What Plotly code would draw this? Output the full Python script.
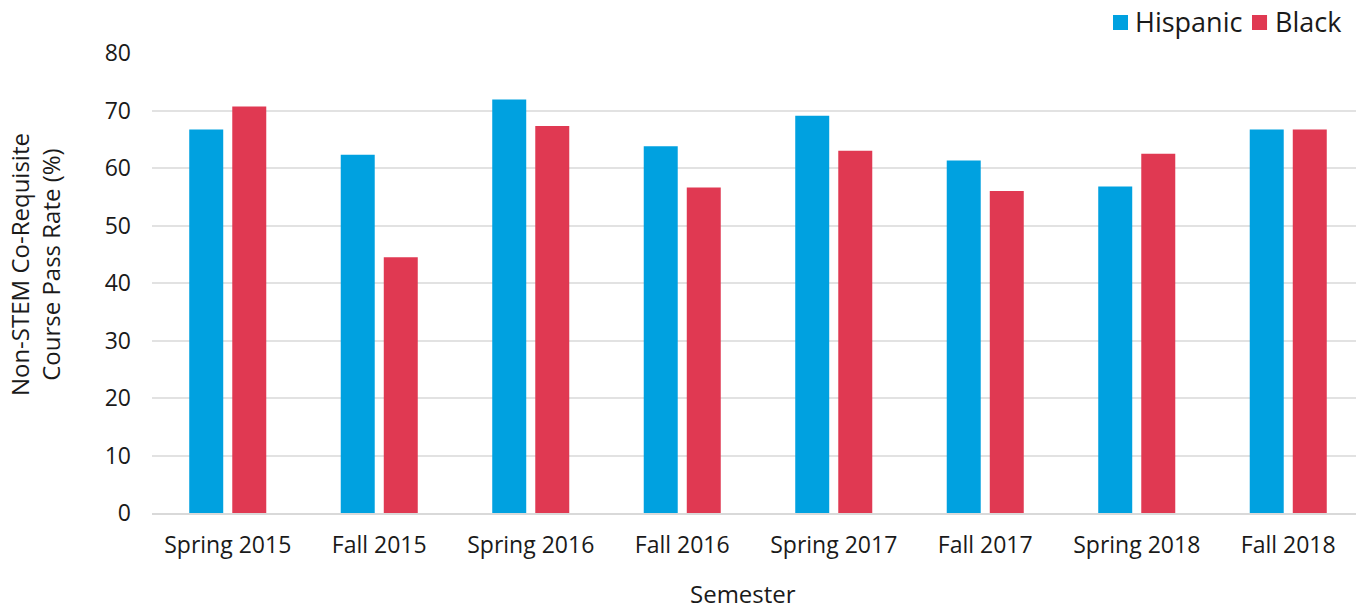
import plotly.graph_objects as go

semesters = ["Spring 2015", "Fall 2015", "Spring 2016", "Fall 2016",
             "Spring 2017", "Fall 2017", "Spring 2018", "Fall 2018"]
hispanic = [66.7, 62.3, 71.9, 63.8, 69.1, 61.3, 56.8, 66.7]
black = [70.7, 44.5, 67.3, 56.6, 63.0, 56.0, 62.5, 66.7]
y_ticks = [0, 10, 20, 30, 40, 50, 60, 70, 80]

FONT = "'Open Sans', Lato, sans-serif"
TXT = "#1a1a1a"
BLUE = "#00A1E0"
RED = "#E03952"

fig = go.Figure()
fig.add_trace(go.Bar(x=semesters, y=hispanic, name="Hispanic",
                     marker=dict(color=BLUE, line=dict(width=0))))
fig.add_trace(go.Bar(x=semesters, y=black, name="Black",
                     marker=dict(color=RED, line=dict(width=0))))

# manual legend (squares + labels) placed above the plot area
legend_items = [("Hispanic", BLUE, 0.7929, 0.8053, 0.8094),
                ("Black", RED, 0.9076, 0.9200, 0.9249)]
shapes = []
annotations = []
for name, color, x0, x1, xt in legend_items:
    shapes.append(dict(type="rect", xref="paper", yref="paper",
                       x0=x0, x1=x1, y0=1.05, y1=1.0826,
                       fillcolor=color, line=dict(width=0)))
    annotations.append(dict(text=name, xref="paper", yref="paper", x=xt, y=1.0674,
                            xanchor="left", yanchor="middle", showarrow=False,
                            font=dict(size=27, family=FONT, color=TXT)))

annotations += [
    dict(text="Non-STEM Co-Requisite<br>Course Pass Rate (%)", textangle=-90,
         xref="paper", yref="paper", x=-0.0965, y=0.539,
         xanchor="center", yanchor="middle", showarrow=False,
         font=dict(size=24, family=FONT, color=TXT)),
    dict(text="Semester", xref="paper", yref="paper", x=0.4876, y=-0.176,
         xanchor="center", yanchor="middle", showarrow=False,
         font=dict(size=24, family=FONT, color=TXT)),
]

fig.update_layout(
    width=1356, height=597,
    margin=dict(l=144, r=0, t=45, b=92),
    paper_bgcolor="white", plot_bgcolor="white",
    barmode="group", bargap=0.432, bargroupgap=0.21,
    font=dict(family=FONT, color=TXT, size=22),
    showlegend=False,
    xaxis=dict(
        automargin=False,
        tickfont=dict(size=23, family=FONT, color=TXT),
        ticklabelstandoff=10,
        showline=True, linecolor="#d9d9d9", linewidth=2,
        ticks="", showgrid=False,
    ),
    yaxis=dict(
        automargin=False,
        range=[0, 80], tickvals=y_ticks,
        tickfont=dict(size=23, family=FONT, color=TXT),
        ticklabelstandoff=20,
        showgrid=True, gridcolor="#e2e2e2", gridwidth=2,
        zeroline=False, ticks="", ticklen=0,
    ),
    shapes=shapes,
    annotations=annotations,
)

fig.write_html("out.html")
